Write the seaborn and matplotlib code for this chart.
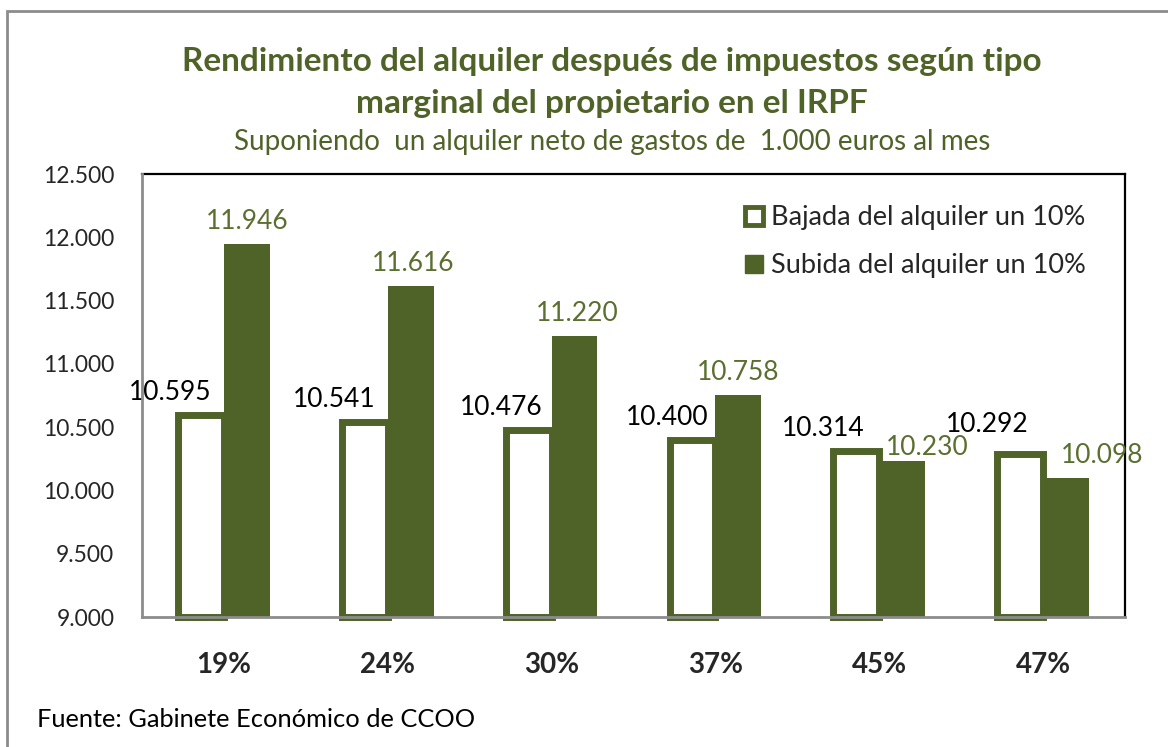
import numpy as np
import pandas as pd
import matplotlib.pyplot as plt
import seaborn as sns
from matplotlib.patches import Patch, Rectangle

# Datos del grafico
tipos = ['19%', '24%', '30%', '37%', '45%', '47%']
bajada = [10595, 10541, 10476, 10400, 10314, 10292]
subida = [11946, 11616, 11220, 10758, 10230, 10098]
series = ['Bajada del alquiler un 10%', 'Subida del alquiler un 10%']

df = pd.DataFrame({
    'tipo': tipos * 2,
    'valor': bajada + subida,
    'serie': [series[0]] * len(tipos) + [series[1]] * len(tipos),
})

verde = '#4F6228'
verde_txt = '#5A6F30'
ymin, ymax = 9000, 12500

sns.set_style('white')
plt.rcParams['font.family'] = ['Lato', 'DejaVu Sans']

fig = plt.figure(figsize=(11.68, 7.47), dpi=100)
ax = fig.add_axes([0.1216, 0.174, 0.8416, 0.593])

sns.barplot(data=df, x='tipo', y='valor', hue='serie', order=tipos,
            hue_order=series, width=0.56, palette=[verde, verde], ax=ax)
ax.set_ylim(ymin, ymax)

# estilo de barras (base en el minimo del eje, como en Excel)
for p in ax.containers[0]:
    h = p.get_height()
    p.set_y(ymin)
    p.set_height(h - ymin)
    p.set_facecolor('white')
    p.set_edgecolor(verde)
    p.set_linewidth(5)
    p.set_clip_on(False)
    p.set_zorder(2)
for p in ax.containers[1]:
    p.set_facecolor(verde)
    p.set_edgecolor(verde)
    p.set_linewidth(0)
    p.set_zorder(3)

ax.set_yticks(np.arange(ymin, ymax + 1, 500))
ax.set_yticklabels([f'{v:,.0f}'.replace(',', '.') for v in np.arange(ymin, ymax + 1, 500)],
                   fontsize=16.5)
ax.set_xticks(range(len(tipos)))
ax.set_xticklabels(tipos, fontsize=20, fontweight='bold')
ax.tick_params(axis='x', length=0, pad=25)
ax.tick_params(axis='y', length=0, pad=20)
ax.set_xlabel('')
ax.set_ylabel('')

for s in ['left', 'bottom']:
    ax.spines[s].set_color('#8c8c8c')
    ax.spines[s].set_linewidth(2)
    ax.spines[s].set_zorder(4)
for s in ['top', 'right']:
    ax.spines[s].set_color('black')
    ax.spines[s].set_linewidth(1.6)

# etiquetas de datos
dx_baj = [-22, -22, -20, -18, -24, -24]
dy_baj = [7, 7, 7, 7, 7, 12]
dx_sub = [0, 2, 2, 0, 18, 26]
dy_sub = [7, 7, 7, 7, 1, 7]
for i, p in enumerate(ax.containers[0]):
    x = p.get_x() + p.get_width() / 2
    ax.annotate(f'{bajada[i]:,}'.replace(',', '.'), (x, bajada[i]),
                xytext=(dx_baj[i], dy_baj[i]), textcoords='offset points',
                ha='center', va='bottom', fontsize=19, color='black')
for i, p in enumerate(ax.containers[1]):
    x = p.get_x() + p.get_width() / 2
    ax.annotate(f'{subida[i]:,}'.replace(',', '.'), (x, subida[i]),
                xytext=(dx_sub[i], dy_sub[i]), textcoords='offset points',
                ha='center', va='bottom', fontsize=19, color=verde_txt)

# leyenda
handles = [Patch(facecolor='white', edgecolor=verde, linewidth=3.5),
           Patch(facecolor=verde, edgecolor=verde)]
ax.legend(handles, series, loc='upper right', bbox_to_anchor=(0.985, 0.985),
          frameon=False, fontsize=19.5, handlelength=0.65, handleheight=0.65,
          handletextpad=0.3, labelspacing=0.85)

# titulos
fig.text(0.524, 0.918, 'Rendimiento del alquiler después de impuestos según tipo',
         ha='center', va='center', fontsize=24, fontweight='bold', color=verde)
fig.text(0.524, 0.861, 'marginal del propietario en el IRPF',
         ha='center', va='center', fontsize=24, fontweight='bold', color=verde)
fig.text(0.524, 0.810, 'Suponiendo  un alquiler neto de gastos de  1.000 euros al mes',
         ha='center', va='center', fontsize=20, color=verde)
fig.text(0.032, 0.037, 'Fuente: Gabinete Económico de CCOO',
         ha='left', va='center', fontsize=18.3, color='black')

# marco exterior
fig.patches.append(Rectangle((7 / 1168, -0.05), 1.2, 1.05 - 12 / 747 + 0.001,
                             transform=fig.transFigure, fill=False,
                             edgecolor='#8c8c8c', linewidth=2))

plt.savefig('out.png', dpi=100)
